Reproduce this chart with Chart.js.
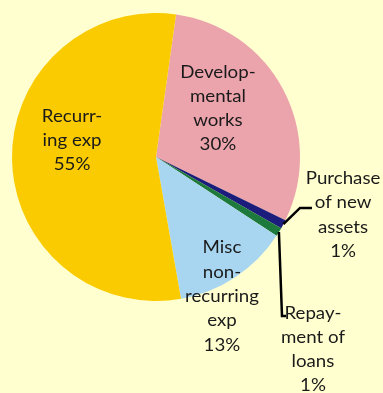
<!DOCTYPE html>
<html>
<head>
<meta charset="utf-8">
<script src="https://cdn.jsdelivr.net/npm/chart.js@4/dist/chart.umd.min.js"></script>
<style>
  html, body { margin: 0; padding: 0; background: #FFFFD0; }
  canvas { display: block; }
</style>
</head>
<body>
<canvas id="c" width="383" height="393"></canvas>
<script>
// Spending categories and their share of the total (%)
const categories = ['Developmental works', 'Purchase of new assets', 'Repayment of loans', 'Misc non-recurring exp', 'Recurring exp'];
const shares = [30, 1, 1, 13, 55];
// Wrapped label text for each category (percentage line is appended from shares)
const labelLines = [
  ['Develop-', 'mental', 'works'],
  ['Purchase', 'of new', 'assets'],
  ['Repay-', 'ment of', 'loans'],
  ['Misc', 'non-', 'recurring', 'exp'],
  ['Recurr-', 'ing exp']
];
const sliceColors = ['#EBA3AC', '#1C1C7C', '#1E7A3C', '#A8D6F0', '#FACB00'];

// Label block centres, in units of the pie radius, relative to the pie centre
const labelPos = [[0.43, -0.337], [1.299, 0.403], [1.09, 1.337], [0.458, 0.969], [-0.583, -0.115]];
// Leader line bend points (radius units) for the slices labelled outside
const leaders = {
  1: [[1.0, 0.354], [1.083, 0.354]],
  2: [[0.875, 1.104], [0.903, 1.104]]
};

const labelPlugin = {
  id: 'sliceLabels',
  beforeDraw(chart) {
    const ctx = chart.ctx;
    ctx.save();
    ctx.fillStyle = '#FFFFD0';
    ctx.fillRect(0, 0, chart.width, chart.height);
    ctx.restore();
  },
  afterDatasetsDraw(chart) {
    const ctx = chart.ctx;
    const arcs = chart.getDatasetMeta(0).data;
    const cx = arcs[0].x, cy = arcs[0].y, R = arcs[0].outerRadius;
    ctx.save();
    // leader lines
    ctx.strokeStyle = '#000';
    ctx.lineWidth = 2.5;
    ctx.lineJoin = 'miter';
    Object.keys(leaders).forEach(k => {
      const a = arcs[k];
      const mid = (a.startAngle + a.endAngle) / 2;
      ctx.beginPath();
      ctx.moveTo(cx + Math.cos(mid) * R, cy + Math.sin(mid) * R);
      leaders[k].forEach(p => ctx.lineTo(cx + p[0] * R, cy + p[1] * R));
      ctx.stroke();
    });
    // labels
    ctx.fillStyle = '#1A1A1A';
    ctx.font = '17px Lato';
    ctx.textAlign = 'center';
    ctx.textBaseline = 'middle';
    const lh = 24.3;
    labelLines.forEach((lines, i) => {
      const all = lines.concat([shares[i] + '%']);
      const x = cx + labelPos[i][0] * R;
      const y0 = cy + labelPos[i][1] * R - (all.length - 1) * lh / 2;
      all.forEach((t, j) => {
        ctx.save();
        ctx.translate(x, y0 + j * lh);
        ctx.scale(1.1, 1);
        ctx.fillText(t, 0, 0);
        ctx.restore();
      });
    });
    ctx.restore();
  }
};

new Chart(document.getElementById('c'), {
  type: 'pie',
  data: {
    labels: categories,
    datasets: [{
      data: shares,
      backgroundColor: sliceColors,
      borderWidth: 0
    }]
  },
  options: {
    responsive: false,
    animation: false,
    rotation: 8,
    layout: { padding: { left: 12, top: 13, right: 83, bottom: 92 } },
    plugins: { legend: { display: false }, tooltip: { enabled: false } }
  },
  plugins: [labelPlugin]
});
</script>
</body>
</html>
